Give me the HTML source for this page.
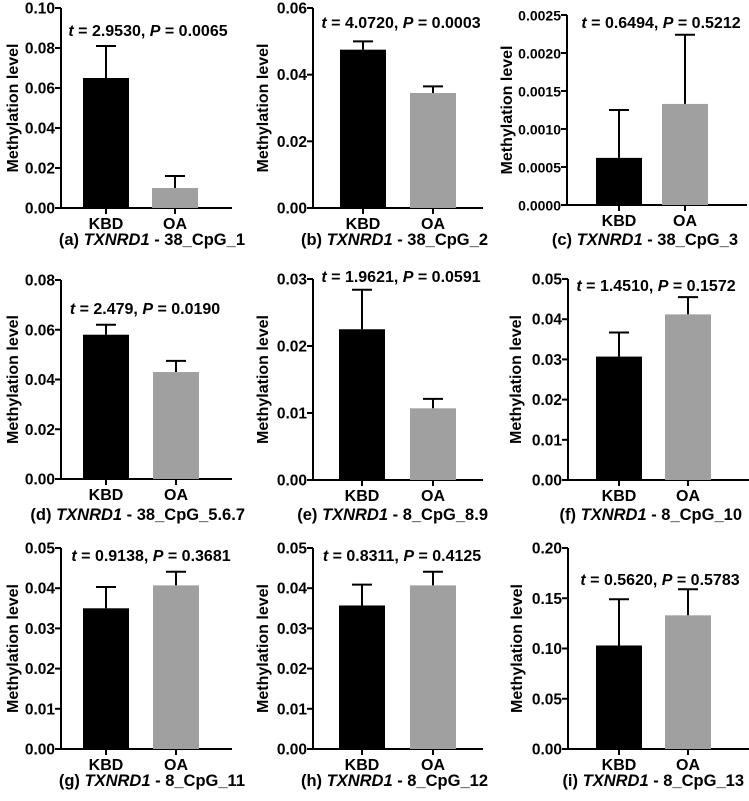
<!DOCTYPE html>
<html><head><meta charset="utf-8">
<style>
html,body{margin:0;padding:0;background:#fff;}
svg{display:block;font-family:"Liberation Sans",Arial,sans-serif;}
</style></head>
<body>
<svg id="fig" width="749" height="801" viewBox="0 0 749 801" xmlns="http://www.w3.org/2000/svg"></svg>
<script>
const panelIds = ["a","b","c","d","e","f","g","h","i"];
const captions = ["38_CpG_1","38_CpG_2","38_CpG_3","38_CpG_5.6.7","8_CpG_8.9","8_CpG_10","8_CpG_11","8_CpG_12","8_CpG_13"];
const categories = ["KBD","OA"];
const kbdMeans = [0.065,0.0475,0.00062,0.058,0.0225,0.0307,0.035,0.0357,0.103];
const kbdErrTop = [0.081,0.050,0.00125,0.062,0.0284,0.0367,0.0403,0.0409,0.149];
const oaMeans = [0.010,0.0345,0.00133,0.043,0.0107,0.0412,0.0407,0.0407,0.133];
const oaErrTop = [0.016,0.0365,0.00224,0.0475,0.0121,0.0455,0.0441,0.0441,0.159];
const yMax = [0.10,0.06,0.0025,0.08,0.03,0.05,0.05,0.05,0.20];
const yStep = [0.02,0.02,0.0005,0.02,0.01,0.01,0.01,0.01,0.05];
const tickDecimals = [2,2,4,2,2,2,2,2,2];
const tVals = ["2.9530","4.0720","0.6494","2.479","1.9621","1.4510","0.9138","0.8311","0.5620"];
const pVals = ["0.0065","0.0003","0.5212","0.0190","0.0591","0.1572","0.3681","0.4125","0.5783"];

const NS="http://www.w3.org/2000/svg";
const svg=document.getElementById('fig');
function mk(tag,attrs,parent){const e=document.createElementNS(NS,tag);for(const k in attrs)e.setAttribute(k,attrs[k]);(parent||svg).appendChild(e);return e;}

// layout (per panel)
const axX=[61,313,567, 61,313,568, 61,313,568];
const axEnd=[232,483,747, 232,483,749, 232,483,749];
const bar1=[83,340,596, 83,339,596, 83,339,596];
const bar2=[152,410,662, 153,410,665, 153,410,665];
const barW=46;
const pTop=[8,8,15, 280,279,279, 548,548,548];
const pBot=[208,208,205, 479,480,480, 749,749,749];
const annX=[148,401,661, 145,401,656, 151,402,660];
const annY=[30,22,22, 308,276,285, 555,555,579];
const titleX=[13,263,507, 13,263,516, 13,263,517];
const tickFs=[15.5,15.5,14, 15.5,15.5,15.5, 15.5,15.5,15.5];
const capEnd=[245,488,738, 245,488,742, 245,488,744];
const capY=[245,245,245, 520,520,520, 786,786,786];

panelIds.forEach((pid,i)=>{
  const ax=axX[i], top=pTop[i], bot=pBot[i];
  const g=mk('g',{});
  
  
  const y=v=>bot-(v/yMax[i])*(bot-top);
  const yl=mk('line',{x1:ax,y1:top,x2:ax,y2:bot+1,stroke:'#000','stroke-width':2},g);
  
  
  const xl=mk('line',{x1:ax-1,y1:bot,x2:axEnd[i],y2:bot,stroke:'#000','stroke-width':2},g);
  
  
  const n=Math.round(yMax[i]/yStep[i]);
  for(let k=0;k<=n;k++){
    const v=k*yStep[i], yy=y(v);
    mk('line',{x1:ax-6,y1:yy,x2:ax,y2:yy,stroke:'#000','stroke-width':2},g);
    const t=mk('text',{x:ax-6,y:yy+5.5,'text-anchor':'end','font-size':tickFs[i],'font-weight':'bold'},g);
    t.textContent=v.toFixed(tickDecimals[i]);
    
    
  }
  const yt=mk('text',{transform:`translate(${titleX[i]+5},${(top+bot)/2}) rotate(-90)`,'text-anchor':'middle','font-size':16,'font-weight':'bold'},g);
  yt.textContent='Methylation level';
  
  
  const means=[kbdMeans[i],oaMeans[i]], errs=[kbdErrTop[i],oaErrTop[i]];
  const xs=[bar1[i],bar2[i]], fills=['#000','#a0a0a0'];
  for(let b=0;b<2;b++){
    const x0=xs[b], cx=x0+barW/2;
    mk('line',{x1:cx,y1:y(errs[b]),x2:cx,y2:y(means[b]),stroke:'#000','stroke-width':2},g);
    mk('line',{x1:cx-10,y1:y(errs[b]),x2:cx+10,y2:y(errs[b]),stroke:'#000','stroke-width':2},g);
    const rect=mk('rect',{x:x0,y:y(means[b]),width:barW,height:bot-y(means[b]),fill:fills[b]},g);
    
    
    mk('line',{x1:cx,y1:bot,x2:cx,y2:bot+6,stroke:'#000','stroke-width':2},g);
    const lt=mk('text',{x:cx,y:bot+21,'text-anchor':'middle','font-size':16,'font-weight':'bold'},g);
    lt.textContent=categories[b];
    
    
  }
  const an=mk('text',{x:annX[i],y:annY[i]+6,'text-anchor':'middle','font-size':16,'font-weight':'bold'},g);
  an.innerHTML=`<tspan font-style="italic">t</tspan> = ${tVals[i]}, <tspan font-style="italic">P</tspan> = ${pVals[i]}`;
  
  
  const cp=mk('text',{x:capEnd[i],y:capY[i],'text-anchor':'end','font-size':16.5,'font-weight':'bold'},g);
  cp.innerHTML=`(${pid}) <tspan font-style="italic">TXNRD1</tspan> - ${captions[i]}`;
  
  
});
</script>
</body></html>
